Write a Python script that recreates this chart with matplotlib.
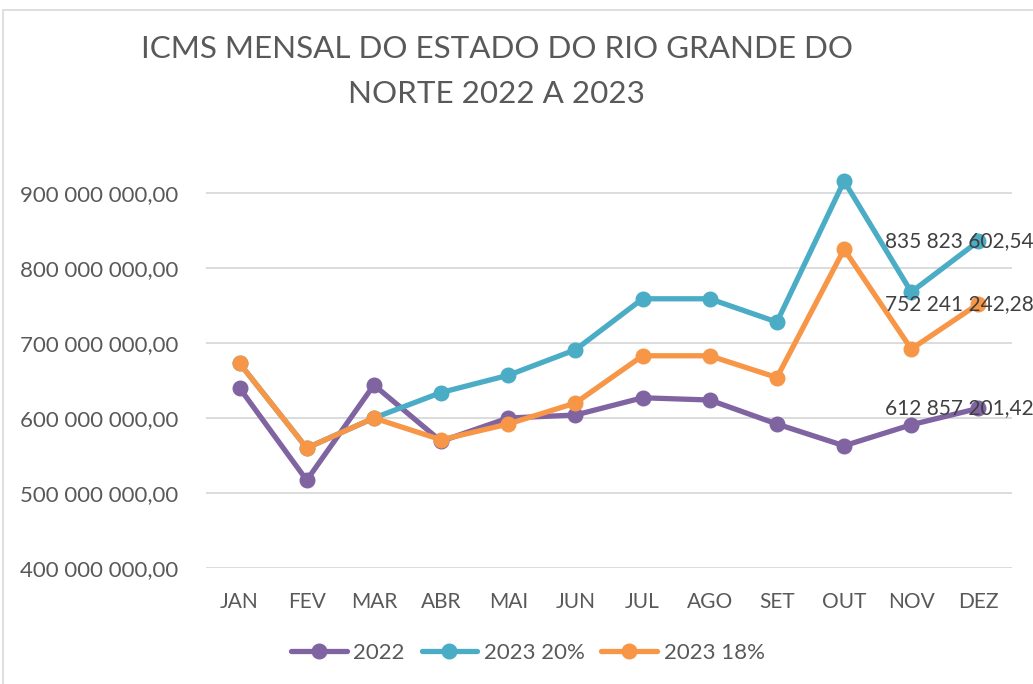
import numpy as np
import matplotlib.pyplot as plt
from matplotlib.patches import Rectangle
from matplotlib.ticker import FuncFormatter

meses = ['JAN', 'FEV', 'MAR', 'ABR', 'MAI', 'JUN', 'JUL', 'AGO', 'SET', 'OUT', 'NOV', 'DEZ']

# valores em milhões de reais
icms_2022 = [640, 517, 644, 569, 600, 604, 627, 624, 592, 563, 591, 612.857]
icms_2023_20 = [673, 560, 600, 634, 657, 691, 759, 759, 728, 916, 768, 835.824]
icms_2023_18 = [673, 560, 600, 571, 592, 620, 683, 683, 654, 825, 692, 752.241]

rotulos_dez = ['612 857 201,42', '835 823 602,54', '752 241 242,28']

plt.rcParams['font.family'] = ['Lato', 'DejaVu Sans']
cinza = '#595959'

fig = plt.figure(figsize=(10.33, 6.84), dpi=100)
ax = fig.add_axes([0.1994, 0.1696, 0.7803, 0.5964])

# moldura do gráfico
fig.patches.append(Rectangle((3 / 1033, -0.1), 1.2, 1 - 10 / 684 + 0.1, transform=fig.transFigure,
                             fill=False, edgecolor='#D9D9D9', linewidth=1.2))

x = np.arange(len(meses))
series = [(icms_2022, '2022', '#8064A2'),
          (icms_2023_20, '2023 20%', '#4BACC6'),
          (icms_2023_18, '2023 18%', '#F79646')]

for valores, nome, cor in series:
    ax.plot(x, valores, color=cor, linewidth=3.8, marker='o', markersize=10.5,
            label=nome, solid_capstyle='round')

for (valores, nome, cor), rotulo in zip(series, rotulos_dez):
    ax.annotate(rotulo, (x[-1], valores[-1]), xytext=(-14, 0), textcoords='offset points',
                ha='center', va='center', fontsize=15, color='#404040')

ax.set_xlim(-0.5, 11.5)
ax.set_ylim(400, 944)
ax.set_yticks(np.arange(400, 901, 100))
ax.yaxis.set_major_formatter(FuncFormatter(lambda v, p: f'{int(v)} 000 000,00'))
ax.set_xticks(x)
ax.set_xticklabels(meses)
ax.tick_params(axis='both', length=0, colors=cinza)
ax.tick_params(axis='x', pad=17, labelsize=15)
ax.tick_params(axis='y', pad=20, labelsize=16)
ax.grid(axis='y', color='#D9D9D9', linewidth=1.3)
ax.set_axisbelow(True)
for lado in ax.spines.values():
    lado.set_visible(False)

fig.text(0.481, 0.896, 'ICMS MENSAL DO ESTADO DO RIO GRANDE DO\nNORTE 2022 A 2023',
         ha='center', va='center', fontsize=22.6, color=cinza, linespacing=1.75)

fig.legend(loc='center', bbox_to_anchor=(0.511, 0.045), ncol=3, frameon=False,
           fontsize=16, labelcolor=cinza, handlelength=2.5, columnspacing=0.75,
           handletextpad=0.3)

fig.savefig('out.png', dpi=100)
